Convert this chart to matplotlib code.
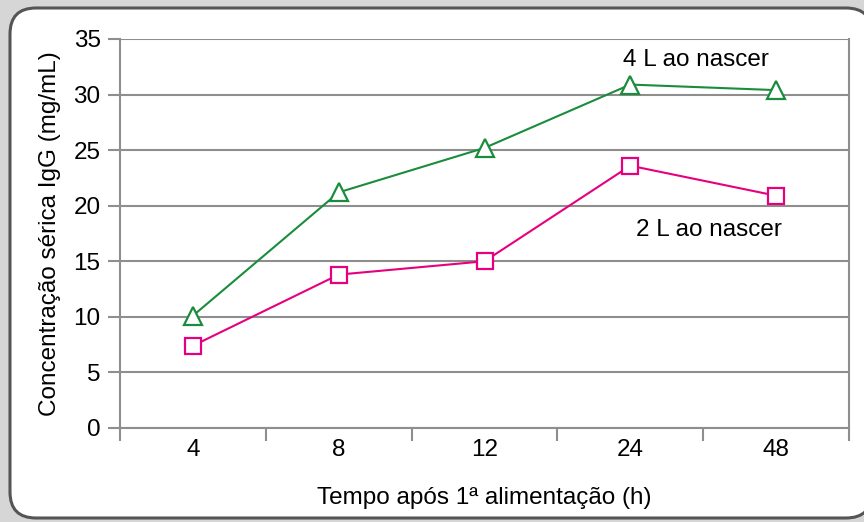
import matplotlib
matplotlib.use("Agg")
import matplotlib.pyplot as plt
from matplotlib.patches import FancyBboxPatch
from matplotlib.ticker import FixedLocator

# data
hours = ["4", "8", "12", "24", "48"]
igg_4l = [10.1, 21.2, 25.2, 30.9, 30.4]
igg_2l = [7.4, 13.8, 15.0, 23.6, 20.9]
y_ticks = [0, 5, 10, 15, 20, 25, 30, 35]

GREEN = "#1a8c3c"
PINK = "#e6007e"
GRID = "#8e8e8e"
FS = 17.5

plt.rcParams["font.family"] = ["Liberation Sans", "DejaVu Sans"]

fig = plt.figure(figsize=(8.64, 5.22), dpi=100, facecolor="#d6d6d6")

# rounded white panel behind the chart
panel = FancyBboxPatch(
    (0.10, 0.04), 8.62, 5.10,
    boxstyle="round,pad=0,rounding_size=0.26",
    transform=fig.dpi_scale_trans,
    facecolor="white", edgecolor="#555555", linewidth=2.2,
    zorder=-5,
)
fig.patches.append(panel)

ax = fig.add_axes([0.1389, 0.1801, 0.8438, 0.7452])
ax.set_zorder(2)
ax.set_facecolor("none")

x = list(range(len(hours)))
ax.plot(x, igg_4l, color=GREEN, lw=1.5, marker="^", ms=13,
        mfc="white", mec=GREEN, mew=1.6, zorder=3)
ax.plot(x, igg_2l, color=PINK, lw=1.5, marker="s", ms=11,
        mfc="white", mec=PINK, mew=1.6, zorder=3)

ax.text(3.45, 33.1, "4 L ao nascer", fontsize=FS, ha="center", va="center")
ax.text(3.54, 17.8, "2 L ao nascer", fontsize=FS, ha="center", va="center")

ax.set_xlim(-0.5, len(hours) - 0.5)
ax.set_ylim(0, 35)
ax.set_yticks(y_ticks)
ax.set_xticks(x)
ax.set_xticklabels(hours)
ax.xaxis.set_minor_locator(FixedLocator([i - 0.5 for i in range(len(hours) + 1)]))

ax.grid(axis="y", color=GRID, lw=1.5)
ax.set_axisbelow(True)
for side in ["left", "right", "bottom"]:
    ax.spines[side].set_color(GRID)
    ax.spines[side].set_linewidth(1.5)
ax.spines["top"].set_visible(False)

ax.tick_params(axis="y", length=9, width=1.5, color=GRID, labelsize=FS, pad=5)
ax.tick_params(axis="x", which="major", length=0, labelsize=FS, pad=8)
ax.tick_params(axis="x", which="minor", length=9, width=1.5, color=GRID)

ax.set_ylabel("Concentração sérica IgG (mg/mL)", fontsize=FS, labelpad=9)
ax.set_xlabel("Tempo após 1ª alimentação (h)", fontsize=FS, labelpad=19)

fig.savefig("out.png", dpi=100, facecolor=fig.get_facecolor())
